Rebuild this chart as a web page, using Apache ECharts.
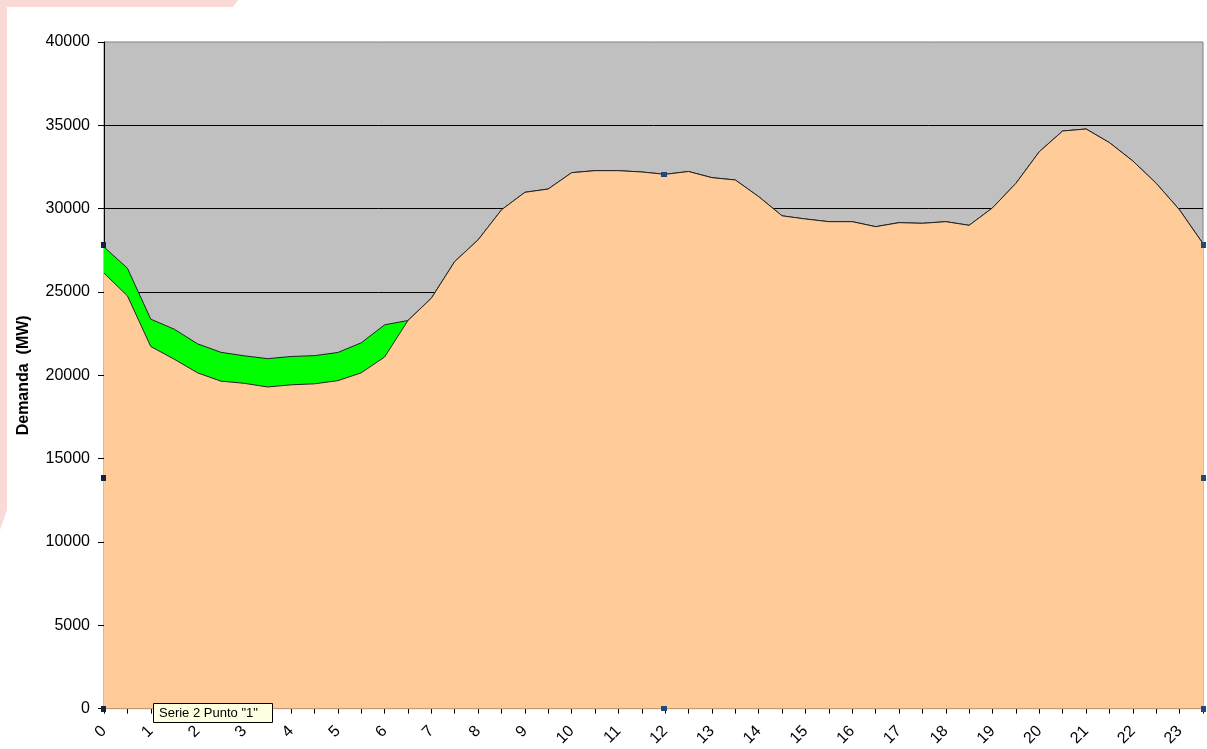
<!DOCTYPE html>
<html>
<head>
<meta charset="utf-8">
<script src="https://cdn.jsdelivr.net/npm/echarts@6/dist/echarts.min.js"></script>
<style>
html,body{margin:0;padding:0;background:#fff;}
#chart{width:1207px;height:749px;}
</style>
</head>
<body>
<div id="chart"></div>
<script>
// half-hour categories (labels shown for full hours)
const categories = ["0","0:30","1","1:30","2","2:30","3","3:30","4","4:30","5","5:30",
  "6","6:30","7","7:30","8","8:30","9","9:30","10","10:30","11","11:30",
  "12","12:30","13","13:30","14","14:30","15","15:30","16","16:30","17","17:30",
  "18","18:30","19","19:30","20","20:30","21","21:30","22","22:30","23","23:30"];

// Serie 1: demand (orange area)
const demanda = [26130,24770,21730,20970,20150,19650,19520,19300,19430,19490,19680,20150,
  21100,23290,24630,26830,28130,29930,30980,31180,32160,32280,32280,32200,
  32060,32230,31860,31720,30720,29570,29380,29220,29220,28920,29160,29120,
  29220,29000,30050,31520,33420,34660,34780,33960,32860,31520,29920,27900];

// Serie 2: extra band stacked on top (green area)
const serie2 = [1570,1660,1640,1800,1740,1730,1650,1700,1700,1690,1690,1800,
  1930,0,0,0,0,0,0,0,0,0,0,0,
  0,0,0,0,0,0,0,0,0,0,0,0,
  0,0,0,0,0,0,0,0,0,0,0,0];

const yTicks = {min:0, max:40000, interval:5000};
const axisName = "Demanda  (MW)";
const tooltipText = 'Serie 2 Punto "1"';

const FONT = "'Liberation Sans', Arial, sans-serif";
const chart = echarts.init(document.getElementById('chart'), null, {renderer:'canvas'});

const option = {
  animation: false,
  backgroundColor: '#ffffff',
  grid: {left:104, right:4, top:42, bottom:40, show:true, backgroundColor:'#C0C0C0',
         borderColor:'#808080', borderWidth:1},
  xAxis: {
    type:'category', data: categories, boundaryGap:false,
    axisLine:{show:true, lineStyle:{color:'#000', width:1}},
    axisTick:{show:true, interval:0, length:5, lineStyle:{color:'#000'}},
    axisLabel:{interval:1, rotate:45, color:'#000', fontFamily:FONT, fontSize:16, margin:20,
      formatter: v => v.indexOf(':')>=0 ? '' : v},
    splitLine:{show:false}
  },
  yAxis: {
    type:'value', min:yTicks.min, max:yTicks.max, interval:yTicks.interval,
    name: axisName, nameLocation:'middle', nameGap:72, nameRotate:90,
    nameTextStyle:{color:'#000', fontFamily:FONT, fontSize:16, fontWeight:'bold'},
    axisLine:{show:true, lineStyle:{color:'#000', width:1}},
    axisTick:{show:true, length:6, lineStyle:{color:'#000'}},
    axisLabel:{color:'#000', fontFamily:FONT, fontSize:16, margin:14, formatter: v => String(v)},
    splitLine:{show:true, showMaxLine:false, lineStyle:{color:'#000', width:1}}
  },
  series: [
    {name:'Serie 1', type:'line', stack:'d', data: demanda, symbol:'none',
     lineStyle:{color:'#222', width:1}, areaStyle:{color:'#FFCC99', opacity:1}, z:2},
    {name:'Serie 2', type:'line', stack:'d', data: serie2, symbol:'none',
     lineStyle:{color:'#222', width:1}, areaStyle:{color:'#00FF00', opacity:1}, z:1}
  ],
  graphic: [
    {type:'polygon', silent:true, z:-10,
     shape:{points:[[0,0],[238,0],[233,7],[7,7],[7,510],[0,530]]},
     style:{fill:'#FADAD7'}},
    // Excel selection handles
    {type:'rect', shape:{x:101,y:242,width:5,height:6}, style:{fill:'#10243f'}, z:100},
    {type:'rect', shape:{x:101,y:475,width:5,height:6}, style:{fill:'#10243f'}, z:100},
    {type:'rect', shape:{x:101,y:706,width:5,height:6}, style:{fill:'#10243f'}, z:100},
    {type:'rect', shape:{x:661,y:172,width:6,height:5}, style:{fill:'#1f4a80'}, z:100},
    {type:'rect', shape:{x:661,y:706,width:6,height:5}, style:{fill:'#1f4a80'}, z:100},
    {type:'rect', shape:{x:1201,y:242,width:5,height:6}, style:{fill:'#1f4a80'}, z:100},
    {type:'rect', shape:{x:1201,y:475,width:5,height:6}, style:{fill:'#1f4a80'}, z:100},
    {type:'rect', shape:{x:1201,y:706,width:5,height:6}, style:{fill:'#1f4a80'}, z:100},
    // tooltip box
    {type:'rect', z:200, shape:{x:153.5,y:703.5,width:119,height:19},
     style:{fill:'#FFFFE1', stroke:'#000', lineWidth:1}},
    {type:'text', z:201, style:{x:159, y:713, text: tooltipText, fill:'#000',
     font:"13px 'Liberation Sans', Arial, sans-serif", verticalAlign:'middle', align:'left'}}
  ]
};
chart.setOption(option);
</script>
</body>
</html>
